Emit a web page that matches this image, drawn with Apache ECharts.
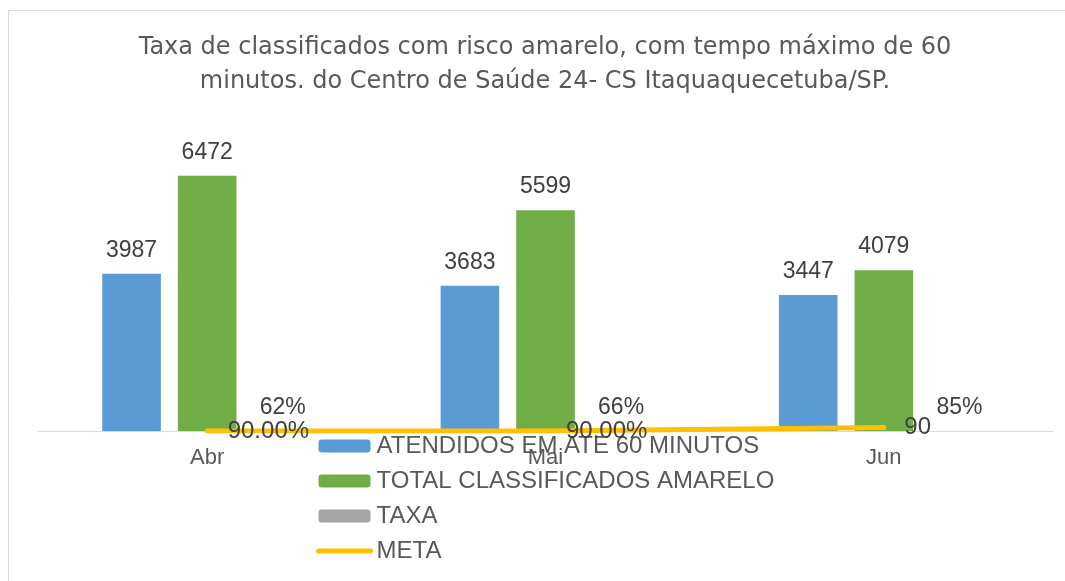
<!DOCTYPE html>
<html>
<head>
<meta charset="utf-8">
<script src="https://cdn.jsdelivr.net/npm/echarts@6/dist/echarts.min.js"></script>
<style>html,body{margin:0;padding:0;background:#fff}#c{width:1065px;height:581px}</style>
</head>
<body>
<div id="c"></div>
<script>
var categories = ['Abr', 'Mai', 'Jun'];
var atendidos = [3987, 3683, 3447];
var totalAmarelo = [6472, 5599, 4079];
var taxa = [0.62, 0.66, 0.85];
var meta = [0.9, 0.9, 90];
var metaLabels = ['90.00%', '90.00%', '90'];
var seriesNames = ['ATENDIDOS EM ATE 60 MINUTOS', 'TOTAL CLASSIFICADOS AMARELO', 'TAXA', 'META'];

var FONT = '"Liberation Sans", Arial, sans-serif';
var TFONT = '"DejaVu Sans", sans-serif';
var chart = echarts.init(document.getElementById('c'));
var lbl = {show: true, position: 'top', distance: 12, color: '#404040', fontSize: 23, fontFamily: FONT};
chart.setOption({
  animation: false,
  backgroundColor: '#fff',
  graphic: [{type: 'rect', shape: {x: 8.5, y: 10.5, width: 2000, height: 2000}, style: {fill: 'none', stroke: '#D9D9D9', lineWidth: 1}, silent: true, z: -10}],
  title: {
    text: 'Taxa de classificados com risco amarelo, com tempo máximo de 60\nminutos. do Centro de Saúde 24- CS Itaquaquecetuba/SP.',
    left: 545, textAlign: 'center', top: 31, padding: 0,
    textStyle: {fontFamily: TFONT, fontSize: 24, fontWeight: 'normal', color: '#595959', lineHeight: 34}
  },
  legend: {
    orient: 'vertical', left: 316, top: 434, padding: 0, itemWidth: 52, itemHeight: 13, itemGap: 11,
    data: [seriesNames[0], seriesNames[1], seriesNames[2],
      {name: seriesNames[3], itemStyle: {opacity: 0}, lineStyle: {width: 5, cap: 'round', color: '#FFC000'}}],
    textStyle: {fontFamily: FONT, fontSize: 24, color: '#595959', lineHeight: 23, padding: [0, 0, 0, 1]}
  },
  grid: {left: 38, right: 12, top: 155, bottom: 150, containLabel: false},
  xAxis: {
    type: 'category', data: categories,
    axisLine: {lineStyle: {color: '#D9D9D9', width: 1}},
    axisTick: {show: false},
    axisLabel: {fontFamily: FONT, fontSize: 22, color: '#595959', margin: 16}
  },
  yAxis: {type: 'value', min: 0, max: 7000, show: false, splitLine: {show: false}},
  series: [
    {name: seriesNames[0], type: 'bar', data: atendidos, barGap: '29%', barCategoryGap: '38%', itemStyle: {color: '#5B9BD5'}, label: lbl},
    {name: seriesNames[1], type: 'bar', data: totalAmarelo, itemStyle: {color: '#70AD47'}, label: lbl},
    {name: seriesNames[2], type: 'bar', data: taxa, itemStyle: {color: '#A5A5A5'},
     label: Object.assign({}, lbl, {formatter: function (p) { return Math.round(p.value * 100) + '%'; }})},
    {name: seriesNames[3], type: 'line', data: meta, showSymbol: true, symbol: 'circle', symbolSize: 1, z: 5,
     lineStyle: {color: '#FFC000', width: 5, cap: 'round'}, itemStyle: {color: '#FFC000'},
     label: {show: true, position: 'right', distance: 20, color: '#404040', fontSize: 24, fontFamily: FONT,
       formatter: function (p) { return metaLabels[p.dataIndex]; }}}
  ]
});
</script>
</body>
</html>
